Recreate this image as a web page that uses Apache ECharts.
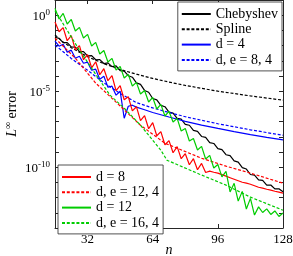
<!DOCTYPE html>
<html>
<head>
<meta charset="utf-8">
<script src="https://cdn.jsdelivr.net/npm/echarts@6/dist/echarts.min.js"></script>
<style>html,body{margin:0;padding:0;background:#fff}#c{width:293px;height:256px}</style>
</head>
<body>
<div id="c"></div>
<script>
// n values (grid size) and log10 of the L-infinity error
const nFine = [16,18,20,22,24,26,28,30,32,34,36,38,40,42,44,46,48,50,52,54,56,58,60,62,64,66,68,70,72,74,76,78,80,82,84,86,88,90,92,94,96,98,100,102,104,106,108,110,112,114,116,118,120,122,124,126,128];
const chebyshevExp = [-1.45,-1.52,-1.80,-1.80,-2.08,-2.10,-2.38,-2.40,-2.68,-2.66,-2.93,-2.92,-3.18,-3.14,-3.38,-3.34,-3.65,-3.68,-3.98,-4.08,-4.45,-4.55,-4.95,-5.07,-5.48,-5.57,-5.93,-6.02,-6.38,-6.44,-6.78,-6.84,-7.18,-7.24,-7.58,-7.64,-7.98,-8.04,-8.38,-8.44,-8.78,-8.84,-9.18,-9.24,-9.58,-9.67,-10.03,-10.12,-10.48,-10.52,-10.83,-10.87,-11.18,-11.17,-11.43,-11.42,-11.62];
const d8Exp = [-0.45,-1.09,-0.82,-1.68,-1.34,-2.27,-2.00,-2.93,-2.59,-3.46,-3.06,-3.92,-3.52,-4.31,-3.98,-4.97,-4.63,-5.56,-5.36,-6.29,-6.02,-6.94,-6.61,-7.47,-7.07,-7.93,-7.66,-8.52,-8.25,-9.05,-8.65,-9.44,-9.11,-9.84,-9.44,-10.17,-9.75,-10.35,-10.26,-10.33,-10.39,-10.49,-10.59,-10.69,-10.79,-10.89,-10.99,-11.05,-11.12,-11.22,-11.32,-11.38,-11.45,-11.51,-11.58,-11.64,-11.71];
const d12Exp = [0.45,-0.25,0.12,-0.58,-0.28,-1.04,-0.80,-1.50,-1.26,-2.03,-1.79,-2.55,-2.32,-3.08,-2.84,-3.61,-3.37,-4.13,-3.89,-4.66,-4.42,-5.18,-4.95,-5.71,-5.41,-6.17,-5.87,-6.63,-6.33,-7.03,-6.79,-7.62,-7.45,-8.28,-8.11,-8.87,-8.63,-9.46,-9.22,-10.05,-9.82,-10.64,-10.27,-11.63,-11.06,-12.23,-11.59,-12.75,-12.05,-13.15,-12.61,-12.98,-12.74,-13.11,-12.88,-13.24,-13.01];

const d4N = [16,18,20,22,24,26,28,30,32,34,36,38,40,42,44,46,48,50,52,54,56,60,64,72,80,88,96,104,112,120,128];
const d4Exp = [-1.71,-2.04,-1.91,-2.43,-2.30,-2.83,-2.70,-3.16,-3.09,-3.62,-3.55,-4.21,-4.01,-4.74,-4.67,-5.26,-5.00,-6.78,-5.99,-5.92,-6.05,-6.22,-6.40,-6.70,-6.98,-7.23,-7.45,-7.66,-7.86,-8.04,-8.20];

const smoothN = [16,20,24,32,40,48,56,64,72,80,96,112,128];
const splineExp = [-1.30,-1.76,-2.14,-2.73,-3.19,-3.57,-3.88,-4.16,-4.40,-4.62,-5.00,-5.31,-5.59];
const de84Exp = [-1.97,-2.40,-2.85,-3.62,-4.45,-5.15,-5.75,-6.10,-6.40,-6.68,-7.14,-7.54,-7.90];

const de124N = [16,26,36,46,58,70,88,100,112,128];
const de124Exp = [-1.51,-2.83,-4.47,-5.72,-7.24,-8.42,-9.41,-9.93,-10.39,-11.05];

const de164N = [16,28,38,43,50,58,68,71,87,100,112,128];
const de164Exp = [0.30,-2.30,-4.28,-5.26,-6.12,-7.24,-8.88,-9.54,-10.46,-11.18,-11.97,-12.83];

const xTicks = [32,64,96,128];
const yLabelExps = [0,-5,-10];
const yTickExps = [1,0,-1,-2,-3,-4,-5,-6,-7,-8,-9,-10,-11,-12,-13,-14];

const legendTop = ['Chebyshev','Spline','d = 4','d, e = 8, 4'];
const legendBottom = ['d = 8','d, e = 12, 4','d = 12','d, e = 16, 4'];

const FONT = 'Liberation Serif';
const AX = '#262626';
const pts = (ns, es) => ns.map((n, i) => [n, Math.pow(10, es[i])]);

function line(name, ns, es, color, dashed) {
  return {
    name, type: 'line', data: pts(ns, es), symbol: 'none', smooth: false,
    lineStyle: { color, width: 1.2, type: dashed ? [3, 1.8] : 'solid' },
    itemStyle: { color }, emphasis: { disabled: true }
  };
}

const yTickVals = yTickExps.map(e => Math.pow(10, e));
const yLabVals = yLabelExps.map(e => Math.pow(10, e));

const chart = echarts.init(document.getElementById('c'), null, { renderer: 'canvas' });
const legendBase = {
  orient: 'vertical', itemWidth: 29, itemHeight: 10, itemGap: 1.3,
  padding: [5, 4, 4, 3], borderColor: AX, borderWidth: 0.8, backgroundColor: '#fff',
  itemStyle: { opacity: 0 },
  textStyle: { fontFamily: FONT, fontSize: 14, lineHeight: 12, color: '#000' }, selectedMode: false
};
chart.setOption({
  animation: false,
  grid: { left: 55, right: 10, top: 0, bottom: 28, outerBoundsMode: 'none', containLabel: false },
  legend: [
    Object.assign({}, legendBase, { data: legendTop, right: 11, top: 2 }),
    Object.assign({}, legendBase, { data: legendBottom, left: 58, top: 165 })
  ],
  xAxis: [
    {
      type: 'value', min: 16, max: 128, position: 'bottom',
      axisLine: { lineStyle: { color: AX, width: 1 } },
      axisTick: { inside: true, length: 4, customValues: xTicks, lineStyle: { color: AX } },
      axisLabel: { customValues: xTicks, fontFamily: FONT, fontSize: 13, color: '#000', margin: 5 },
      splitLine: { show: false },
      name: 'n', nameLocation: 'middle', nameGap: 15, nameMoveOverlap: false,
      nameTextStyle: { fontFamily: FONT, fontSize: 14, fontStyle: 'italic', color: '#000', lineHeight: 14 }
    },
    {
      type: 'value', min: 16, max: 128, position: 'top',
      axisLine: { lineStyle: { color: AX, width: 1 } },
      axisTick: { inside: true, length: 4, customValues: xTicks, lineStyle: { color: AX } },
      axisLabel: { show: false }, splitLine: { show: false }
    }
  ],
  yAxis: [
    {
      type: 'log', logBase: 10, min: 1e-14, max: 10, position: 'left',
      axisLine: { show: true, lineStyle: { color: AX, width: 1 } },
      axisTick: { show: true, inside: true, length: 4, customValues: yTickVals, lineStyle: { color: AX } },
      axisLabel: {
        customValues: yLabVals, margin: 5,
        formatter: v => '{b|10}{s|' + Math.round(Math.log10(v)) + '}',
        rich: {
          b: { fontFamily: FONT, fontSize: 13, color: '#000', lineHeight: 15, verticalAlign: 'bottom' },
          s: { fontFamily: FONT, fontSize: 9, color: '#000', lineHeight: 15, verticalAlign: 'top' }
        }
      },
      splitLine: { show: false },
      name: '{i|L}{s|∞}{t| error}', nameLocation: 'middle', nameGap: 36, nameMoveOverlap: false,
      nameTextStyle: {
        rich: {
          i: { fontFamily: FONT, fontSize: 14, fontStyle: 'italic', color: '#000', lineHeight: 16, verticalAlign: 'bottom' },
          s: { fontFamily: FONT, fontSize: 10, color: '#000', lineHeight: 16, verticalAlign: 'top' },
          t: { fontFamily: FONT, fontSize: 14, color: '#000', lineHeight: 16, verticalAlign: 'bottom' }
        }
      }
    },
    {
      type: 'log', logBase: 10, min: 1e-14, max: 10, position: 'right',
      axisLine: { show: true, lineStyle: { color: AX, width: 1 } },
      axisTick: { show: true, inside: true, length: 4, customValues: yTickVals, lineStyle: { color: AX } },
      axisLabel: { show: false }, splitLine: { show: false }
    }
  ],
  series: [
    line('Chebyshev', nFine, chebyshevExp, '#000000', false),
    line('Spline', smoothN, splineExp, '#000000', true),
    line('d = 4', d4N, d4Exp, '#0000ff', false),
    line('d, e = 8, 4', smoothN, de84Exp, '#0000ff', true),
    line('d = 8', nFine, d8Exp, '#ff0000', false),
    line('d, e = 12, 4', de124N, de124Exp, '#ff0000', true),
    line('d = 12', nFine, d12Exp, '#00cc00', false),
    line('d, e = 16, 4', de164N, de164Exp, '#00cc00', true)
  ]
});
</script>
</body>
</html>
